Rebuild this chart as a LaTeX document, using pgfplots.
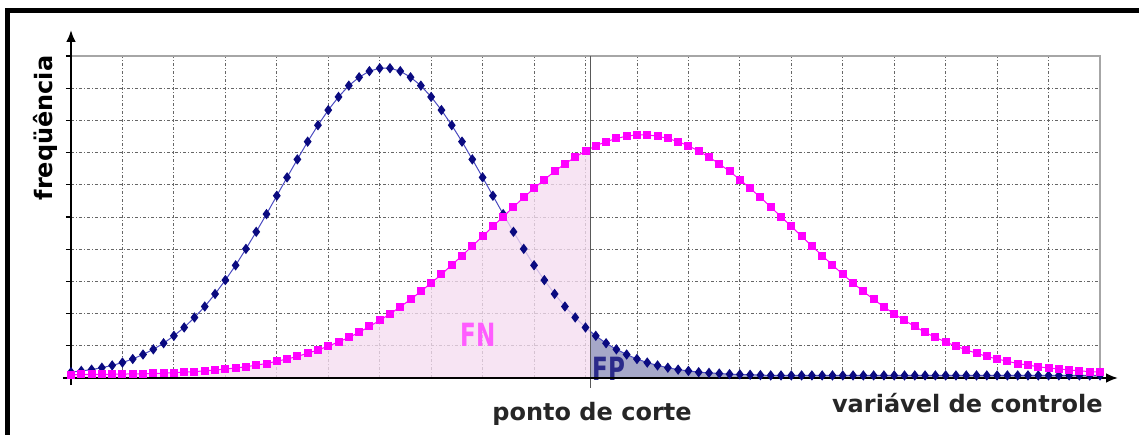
\documentclass[border=0pt]{standalone}
\usepackage{pgfplots}
\pgfplotsset{compat=1.18}
\usepackage{pgfplotstable}
\usepackage{fontspec}
\setmainfont{DejaVu Sans}
\usetikzlibrary{arrows.meta}

\definecolor{navymark}{HTML}{0A0A80}
\definecolor{navyline}{HTML}{4A4AC0}
\definecolor{magmark}{HTML}{FF00FF}
\definecolor{fnfill}{HTML}{F5DCF0}
\definecolor{fpfill}{HTML}{A6A8C8}
\definecolor{fntext}{HTML}{FF5CFF}
\definecolor{fptext}{HTML}{2A2A8A}
\newcommand{\lbl}{\fontsize{12bp}{14bp}\selectfont\bfseries}

% blue curve (negatives)
\pgfplotstableread{
x y
0.0 0.18
0.2 0.22
0.4 0.26
0.6 0.32
0.8 0.39
1.0 0.48
1.2 0.59
1.4 0.73
1.6 0.89
1.8 1.08
2.0 1.31
2.2 1.57
2.4 1.88
2.6 2.22
2.8 2.61
3.0 3.04
3.2 3.50
3.4 4.01
3.6 4.54
3.8 5.09
4.0 5.66
4.2 6.23
4.4 6.79
4.6 7.34
4.8 7.85
5.0 8.32
5.2 8.73
5.4 9.08
5.6 9.34
5.8 9.53
6.0 9.62
6.2 9.62
6.4 9.53
6.6 9.34
6.8 9.08
7.0 8.73
7.2 8.32
7.4 7.85
7.6 7.34
7.8 6.79
8.0 6.23
8.2 5.66
8.4 5.09
8.6 4.54
8.8 4.01
9.0 3.50
9.2 3.04
9.4 2.61
9.6 2.22
9.8 1.88
10.0 1.57
10.2 1.31
10.4 1.08
10.6 0.89
10.8 0.73
11.0 0.59
11.2 0.48
11.4 0.39
11.6 0.32
11.8 0.26
12.0 0.22
12.2 0.18
12.4 0.16
12.6 0.14
12.8 0.12
13.0 0.11
13.2 0.10
13.4 0.09
13.6 0.08
13.8 0.08
14.0 0.08
14.2 0.08
14.4 0.08
14.6 0.08
14.8 0.08
15.0 0.08
15.2 0.08
15.4 0.08
15.6 0.08
15.8 0.08
16.0 0.08
16.2 0.08
16.4 0.08
16.6 0.08
16.8 0.08
17.0 0.08
17.2 0.08
17.4 0.08
17.6 0.08
17.8 0.08
18.0 0.08
18.2 0.08
18.4 0.08
18.6 0.08
18.8 0.08
19.0 0.08
19.2 0.08
19.4 0.08
19.6 0.08
19.8 0.08
20.0 0.08
}\negtable

% magenta curve (positives)
\pgfplotstableread{
x y
0.0 0.10
0.2 0.11
0.4 0.11
0.6 0.11
0.8 0.12
1.0 0.12
1.2 0.13
1.4 0.13
1.6 0.14
1.8 0.15
2.0 0.17
2.2 0.18
2.4 0.20
2.6 0.22
2.8 0.25
3.0 0.28
3.2 0.31
3.4 0.35
3.6 0.40
3.8 0.45
4.0 0.52
4.2 0.59
4.4 0.67
4.6 0.77
4.8 0.87
5.0 0.99
5.2 1.12
5.4 1.26
5.6 1.42
5.8 1.60
6.0 1.79
6.2 1.99
6.4 2.21
6.6 2.44
6.8 2.69
7.0 2.95
7.2 3.22
7.4 3.51
7.6 3.80
7.8 4.10
8.0 4.40
8.2 4.71
8.4 5.01
8.6 5.31
8.8 5.61
9.0 5.89
9.2 6.16
9.4 6.42
9.6 6.65
9.8 6.86
10.0 7.05
10.2 7.21
10.4 7.34
10.6 7.44
10.8 7.51
11.0 7.55
11.2 7.55
11.4 7.51
11.6 7.44
11.8 7.34
12.0 7.21
12.2 7.05
12.4 6.86
12.6 6.65
12.8 6.42
13.0 6.16
13.2 5.89
13.4 5.61
13.6 5.31
13.8 5.01
14.0 4.71
14.2 4.40
14.4 4.10
14.6 3.80
14.8 3.51
15.0 3.22
15.2 2.95
15.4 2.69
15.6 2.44
15.8 2.21
16.0 1.99
16.2 1.79
16.4 1.60
16.6 1.42
16.8 1.26
17.0 1.12
17.2 0.99
17.4 0.87
17.6 0.77
17.8 0.67
18.0 0.59
18.2 0.52
18.4 0.45
18.6 0.40
18.8 0.35
19.0 0.31
19.2 0.28
19.4 0.25
19.6 0.22
19.8 0.20
20.0 0.18
}\postable

\begin{document}
\begin{tikzpicture}
\path[use as bounding box] (-35.5bp,-28.5bp) rectangle (534bp,189bp);

\begin{axis}[
    scale only axis,
    width=514.5bp, height=161bp,
    xmin=0, xmax=20, ymin=0, ymax=10,
    xtick={0,1,...,20}, ytick={0,1,...,10},
    xticklabels={}, yticklabels={},
    grid=major,
    grid style={black!60, line width=0.45bp, dash pattern=on 1.5bp off 1bp on 0.5bp off 1bp},
    axis line style={draw=none},
    ytick pos=left, tick align=outside,
    major tick length=2.5bp,
    ytick style={black, line width=0.6bp},
    xtick style={draw=none},
    clip=false,
]

% FP area under the blue curve right of the cut
\addplot[draw=none, fill=fpfill] coordinates {
    (10.1,1.44) (10.2,1.31) (10.4,1.08) (10.6,0.89) (10.8,0.73) (11.0,0.59)
    (11.2,0.48) (11.4,0.39) (11.6,0.32) (11.8,0.26) (12.0,0.22) (12.2,0.18)
    (12.4,0.16) (12.6,0.14) (12.8,0.12) (13.0,0.11) (13.2,0.10) (13.4,0.09)
    (13.6,0.08) (20.0,0.08)
} \closedcycle;

% blue curve
\addplot[navyline, line width=0.5bp, mark=diamond*, mark size=2.2bp,
    mark options={draw=navymark, fill=navymark}] table {\negtable};

% FN area under the magenta curve left of the cut
\addplot[draw=none, fill=fnfill, fill opacity=0.78] coordinates {
    (0.0,0.10) (0.2,0.11) (0.4,0.11) (0.6,0.11) (0.8,0.12) (1.0,0.12)
    (1.2,0.13) (1.4,0.13) (1.6,0.14) (1.8,0.15) (2.0,0.17) (2.2,0.18)
    (2.4,0.20) (2.6,0.22) (2.8,0.25) (3.0,0.28) (3.2,0.31) (3.4,0.35)
    (3.6,0.40) (3.8,0.45) (4.0,0.52) (4.2,0.59) (4.4,0.67) (4.6,0.77)
    (4.8,0.87) (5.0,0.99) (5.2,1.12) (5.4,1.26) (5.6,1.42) (5.8,1.60)
    (6.0,1.79) (6.2,1.99) (6.4,2.21) (6.6,2.44) (6.8,2.69) (7.0,2.95)
    (7.2,3.22) (7.4,3.51) (7.6,3.80) (7.8,4.10) (8.0,4.40) (8.2,4.71)
    (8.4,5.01) (8.6,5.31) (8.8,5.61) (9.0,5.89) (9.2,6.16) (9.4,6.42)
    (9.6,6.65) (9.8,6.86) (10.0,7.05) (10.1,7.13)
} \closedcycle;

% magenta curve
\addplot[magmark, line width=0.5bp, mark=square*, mark size=1.75bp,
    mark options={draw=magmark, fill=magmark}] table {\postable};

% top and right edge of the plot area
\draw[black!35, line width=0.8bp] (rel axis cs:0,1) -- (rel axis cs:1,1) -- (rel axis cs:1,0);
% cut-off line
\draw[black!65, line width=0.7bp] (axis cs:10.1,-0.3) -- (axis cs:10.1,10);

\node[text=fntext, font=\fontsize{16bp}{16bp}\selectfont\bfseries] at (axis cs:7.92,1.34) {\scalebox{0.72}[1]{FN}};
\node[text=fptext, font=\fontsize{16bp}{16bp}\selectfont\bfseries] at (axis cs:10.45,0.29) {\scalebox{0.72}[1]{FP}};

% axes with arrows
\draw[line width=1.3bp, -{Latex[length=6bp,width=5bp]}] ([yshift=-3.5bp]rel axis cs:0,0) -- ([yshift=13bp]rel axis cs:0,1);
\draw[line width=1.3bp, -{Latex[length=6bp,width=5bp]}] ([xshift=-4bp]rel axis cs:0,0) -- ([xshift=9bp]rel axis cs:1,0);
\end{axis}

% labels
\node[rotate=90, font=\lbl] at (-13bp,125bp) {freqüência};
\node[anchor=base, font=\lbl, text=black!85] at (260.5bp,-21bp) {ponto de corte};
\node[anchor=base east, font=\lbl, text=black!85, inner sep=0pt] at (516bp,-17bp) {variável de controle};

% frame (top and left sides)
\draw[line width=2.5bp, line join=miter] (-31.75bp,-28.5bp) -- (-31.75bp,183.6bp) -- (534bp,183.6bp);
\end{tikzpicture}
\end{document}
